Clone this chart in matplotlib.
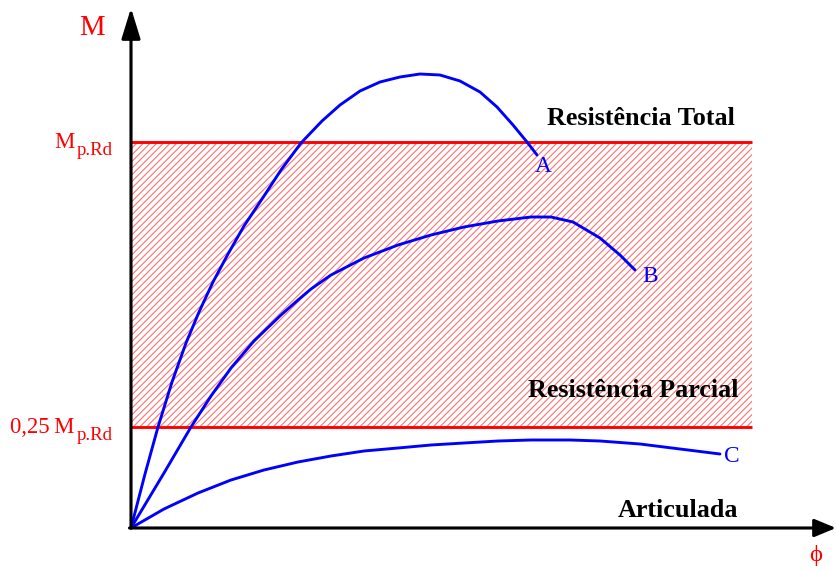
import matplotlib
matplotlib.use("Agg")
import matplotlib.pyplot as plt
from matplotlib.patches import Rectangle, FancyArrowPatch
import numpy as np

plt.rcParams['hatch.linewidth'] = 1.0

SERIF = ['Liberation Serif', 'DejaVu Serif']

# ---- data (rotation phi, moment M), arbitrary units ----
M_PRD = 386          # plastic resistance level
M_PARTIAL = 101      # 0,25 M_p.Rd level (as drawn)
PHI_MAX_ZONE = 621   # right end of the zone lines

phi_A = [0, 14, 27, 41, 55, 68, 82, 97, 113, 133, 150, 170, 191, 209, 229, 249, 269, 289, 309, 329, 349, 366, 382, 396, 406]
M_A   = [0, 54, 101, 146, 185, 216, 246, 274, 302, 332, 358, 385, 407, 423, 437, 446, 451, 454, 453, 447, 436, 421, 403, 386, 373]

phi_B = [0, 33, 60, 80, 100, 123, 150, 167, 180, 200, 233, 267, 300, 333, 367, 400, 420, 442, 469, 489, 504]
M_B   = [0, 55, 101, 132, 160, 187, 213, 228, 239, 253, 270, 283, 293, 301, 307, 311, 311, 306, 290, 273, 258]

phi_C = [0, 33, 67, 100, 133, 167, 200, 233, 267, 300, 333, 367, 400, 420, 439, 469, 509, 549, 589]
M_C   = [0, 19, 35, 48, 58, 66, 72, 77, 80, 83, 85, 87, 88, 88, 88, 87, 84, 79, 74]

curve_labels = ['A', 'B', 'C']
zone_labels = ['Resistência Total', 'Resistência Parcial', 'Articulada']

DPI = 80
fig = plt.figure(figsize=(836 / DPI, 571 / DPI), dpi=DPI)
ax = fig.add_axes([0, 0, 1, 1])
ax.set_xlim(-131, 705)
ax.set_ylim(-43, 528)
ax.axis('off')

# hatched partial-resistance zone
ax.add_patch(Rectangle((0, M_PARTIAL), PHI_MAX_ZONE, M_PRD - M_PARTIAL,
                       facecolor='none', edgecolor='#ff7070', linewidth=0,
                       hatch='////', zorder=1))
# zone boundary lines
ax.plot([0, PHI_MAX_ZONE], [M_PRD, M_PRD], color='#ff0000', lw=2.6, zorder=2, solid_capstyle='butt')
ax.plot([0, PHI_MAX_ZONE], [M_PARTIAL, M_PARTIAL], color='#ff0000', lw=2.6, zorder=2, solid_capstyle='butt')

# curves
for px, py in [(phi_A, M_A), (phi_B, M_B), (phi_C, M_C)]:
    ax.plot(px, py, color='#0000ff', lw=2.6, zorder=4, solid_joinstyle='round', solid_capstyle='round')

# axes with arrows
ay = FancyArrowPatch((0, 0), (0, 520), arrowstyle='-|>,head_length=1.17,head_width=0.36',
                     mutation_scale=20, lw=2.8, color='black', shrinkA=0, shrinkB=0, zorder=5)
ax.add_patch(ay)
axx = FancyArrowPatch((-1.5, 0), (705, 0), arrowstyle='-|>,head_length=0.82,head_width=0.34',
                      mutation_scale=20, lw=2.8, color='black', shrinkA=0, shrinkB=0, zorder=5)
ax.add_patch(axx)

# axis labels
ax.text(-39, 500, 'M', color='#ff0000', fontsize=26, family=SERIF, ha='center', va='center')
ax.text(685, -27, 'ϕ', color='#ff0000', fontsize=22, family=SERIF, ha='center', va='center')

# level labels: "M" + subscript "p.Rd"
for level, prefix in [(M_PRD, ''), (M_PARTIAL, '0,25\u2009')]:
    ax.text(-56, level - 6, prefix + 'M', color='#ff0000', fontsize=20.5, family=SERIF,
            ha='right', va='baseline')
    ax.text(-54, level - 13, 'p.Rd', color='#ff0000', fontsize=17, family=SERIF,
            ha='left', va='baseline')

# zone labels
ax.text(416, 403, zone_labels[0], fontsize=23.5, fontweight='bold', family=SERIF, ha='left', va='baseline')
ax.text(397, 131, zone_labels[1], fontsize=23.5, fontweight='bold', family=SERIF, ha='left', va='baseline')
ax.text(487, 11, zone_labels[2], fontsize=23.5, fontweight='bold', family=SERIF, ha='left', va='baseline')

# curve labels
for lab, (x, y) in zip(curve_labels, [(412, 361), (519, 251), (601, 72)]):
    ax.text(x, y, lab, color='#0000ff', fontsize=21, family=SERIF, ha='center', va='center')

fig.savefig('out.png', dpi=DPI, facecolor='white')
